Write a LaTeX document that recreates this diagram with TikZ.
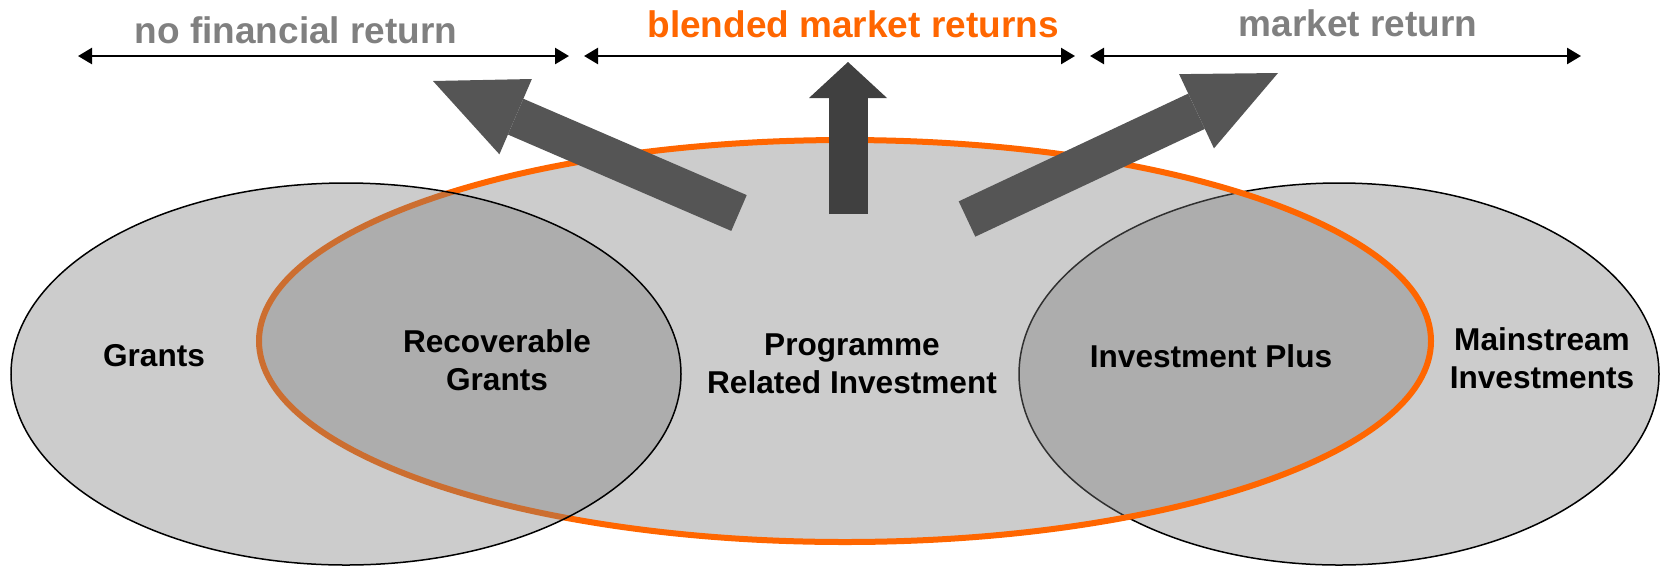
\documentclass[tikz,border=0pt]{standalone}
\usepackage{fontspec}
\setmainfont{Liberation Sans}
\usepackage{xcolor}
\usetikzlibrary{arrows.meta}
\definecolor{ovalgray}{RGB}{124,124,124}
\definecolor{prorange}{RGB}{255,102,0}
\definecolor{labelgray}{RGB}{128,128,128}
\definecolor{arrowgray}{RGB}{85,85,85}
\definecolor{arrowdark}{RGB}{64,64,64}

\begin{document}
\begin{tikzpicture}[x=1pt, y=-1pt,
  every node/.style={font=\fontsize{31.6}{38}\selectfont\bfseries, align=center},
  oval/.style={draw=black, line width=1.5pt, fill=ovalgray, fill opacity=0.39},
  band/.style={line width=2.5pt, {Triangle[length=14pt,width=16pt]}-{Triangle[length=14pt,width=16pt]}},
  toplabel/.style={font=\fontsize{37}{40}\selectfont\bfseries, anchor=base},
  bigarrow/.style={line width=39pt, arrowgray, -{Triangle[length=90pt,width=82pt,line width=0pt]}}]
\useasboundingbox (0,0) rectangle (1661,566);
% Ovals
\draw[oval] (1339,374) ellipse [x radius=320, y radius=191];
\draw[oval, draw=prorange, line width=6pt] (845,341) ellipse [x radius=586, y radius=201];
\draw[oval] (346,374) ellipse [x radius=335, y radius=191];
\node (grants) at (154,356) {Grants};
\node (recov) at (497,360) {Recoverable\\Grants};
\node (pri) at (852,364) {Programme\\Related Investment};
\node (invplus) at (1211,356) {Investment Plus};
\node (mainstr) at (1542,358) {Mainstream\\Investments};
% Return bands
\node[toplabel, text=labelgray] (nofin) at (296,43) {no financial return};
\node[toplabel, text=prorange] (blended) at (853,37) {blended market returns};
\node[toplabel, text=labelgray] (mktret) at (1358,36) {market return};
\coordinate (band1w) at (78,56);
\coordinate (band1e) at (569,56);
\coordinate (band2w) at (584,56);
\coordinate (band2e) at (1075,56);
\coordinate (band3w) at (1090,56);
\coordinate (band3e) at (1581,56);
\draw[band] (band1w) -- (band1e);
\draw[band] (band2w) -- (band2e);
\draw[band] (band3w) -- (band3e);
% Big arrows
\coordinate (lefttail) at (739,213);
\coordinate (lefttip) at (433,81);
\coordinate (uptail) at (848,214);
\coordinate (uptip) at (848,62);
\coordinate (righttail) at (967,219);
\coordinate (righttip) at (1278,73);
\draw[bigarrow] (lefttail) -- (lefttip);
\draw[bigarrow, arrowdark, -{Triangle[length=36pt,width=78pt,line width=0pt]}] (uptail) -- (uptip);
\draw[bigarrow] (righttail) -- (righttip);
\end{tikzpicture}
\end{document}
